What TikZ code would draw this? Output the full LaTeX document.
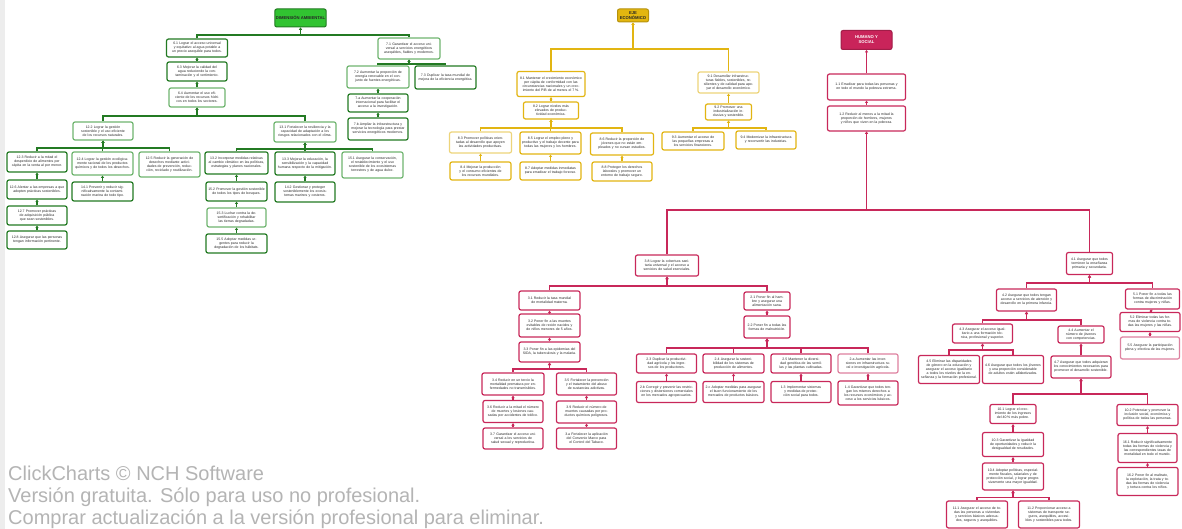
\documentclass[tikz,border=0pt]{standalone}
\usepackage{fontspec}
\setmainfont{Liberation Sans}
\usetikzlibrary{arrows.meta}
\definecolor{gdk}{HTML}{237A23}
\definecolor{glt}{HTML}{6FB56F}
\definecolor{gfill}{HTML}{31C331}
\definecolor{ydk}{HTML}{E2B512}
\definecolor{ylt}{HTML}{EDD47A}
\definecolor{yfill}{HTML}{E3B60F}
\definecolor{rdk}{HTML}{C8285A}
\definecolor{rlt}{HTML}{DE819F}
\definecolor{rfill}{HTML}{C9245A}
\definecolor{wmc}{HTML}{B4B4B4}
\definecolor{txt}{HTML}{2A2A2A}
\tikzset{
  bb/.style={rounded corners=2pt, line width=1.2pt, fill=white, align=center,
    text=txt, inner sep=1.3pt, font=\fontsize{3.5}{4}\selectfont},
  gbox/.style={bb, draw=gdk},
  gboxl/.style={bb, draw=glt},
  ybox/.style={bb, draw=ydk},
  yboxl/.style={bb, draw=ylt},
  rbox/.style={bb, draw=rdk},
  rboxl/.style={bb, draw=rlt},
  rootbox/.style={rounded corners=2pt, line width=1pt, align=center, inner sep=1pt,
    font=\fontsize{4.2}{5}\selectfont\bfseries},
  gconn/.style={draw=gdk, line width=1.1pt, -{Triangle[length=2.4pt,width=3pt]}},
  yconn/.style={draw=ydk, line width=1.1pt, -{Triangle[length=2.4pt,width=3pt]}},
  rconn/.style={draw=rdk, line width=1.1pt, -{Triangle[length=2.4pt,width=3pt]}},
  wmark/.style={anchor=base west, text=wmc, inner sep=0pt, font=\fontsize{20}{20}\selectfont}
}
\newcommand\bx[7]{\pgfmathsetlengthmacro\tw{#5pt-4pt}\node[#1,minimum width=#5pt,minimum height=#6pt,text width=\tw] (#2) at (#3,#4) {#7};}
\newcommand\tobus[4]{\coordinate (bz) at (0,#4); \draw[#1] (#2.north) -- (#2.north |- bz) -| (#3.south);}
\newcommand\tochain[3]{\draw[#1] (#2.north) -- (#3.south);}
\begin{document}
\begin{tikzpicture}[x=1pt,y=-1pt]
\useasboundingbox (0,0) rectangle (1182,529);
\fill[white] (0,0) rectangle (1182,529);
\fill[black!7] (0,0) rectangle (5,529);

% ================= GREEN =================
\node[rootbox, draw=gdk, fill=gfill, text=black!85, minimum width=51pt, minimum height=18pt] (groot) at (300.5,18) {DIMENSIÓN AMBIENTAL};
\bx{gbox}{g1}{197}{48}{61}{18}{6.1 Lograr el acceso universal y equitativo al agua potable a un precio asequible para todos.}
\bx{gbox}{g1a}{197}{71.5}{60}{19}{6.3 Mejorar la calidad del agua reduciendo la contaminación y el vertimiento.}
\bx{gboxl}{g1b}{197}{97.5}{56}{19}{6.4 Aumentar el uso eficiente de los recursos hídricos en todos los sectores.}
\bx{gboxl}{g3}{103}{131}{60}{18}{12.2 Lograr la gestión sostenible y el uso eficiente de los recursos naturales.}
\bx{gboxl}{g4}{305}{132}{62}{20}{13.1 Fortalecer la resiliencia y la capacidad de adaptación a los riesgos relacionados con el clima.}
\bx{gbox}{g3a}{37}{162}{60}{20}{12.3 Reducir a la mitad el desperdicio de alimentos per cápita en la venta al por menor.}
\bx{gboxl}{g3b}{102.5}{163.5}{61}{23}{12.4 Lograr la gestión ecológicamente racional de los productos químicos y de todos los desechos.}
\bx{gboxl}{g3c}{169.5}{164.5}{61}{25}{12.5 Reducir la generación de desechos mediante actividades de prevención, reducción, reciclado y reutilización.}
\bx{gbox}{g3a1}{37}{189.5}{60}{19}{12.6 Alentar a las empresas a que adopten prácticas sostenibles.}
\bx{gbox}{g3a2}{37}{215.5}{60}{19}{12.7 Promover prácticas de adquisición pública que sean sostenibles.}
\bx{gbox}{g3a3}{37}{240}{60}{18}{12.8 Asegurar que las personas tengan información pertinente.}
\bx{gbox}{g3b1}{102.5}{191.5}{61}{19}{14.1 Prevenir y reducir significativamente la contaminación marina de todo tipo.}
\bx{gbox}{g4a}{236.5}{163}{63}{22}{13.2 Incorporar medidas relativas al cambio climático en las políticas, estrategias y planes nacionales.}
\bx{gbox}{g4b}{305}{163.5}{60}{23}{13.3 Mejorar la educación, la sensibilización y la capacidad humana respecto de la mitigación.}
\bx{gboxl}{g4c}{372.5}{165}{61}{26}{15.1 Asegurar la conservación, el restablecimiento y el uso sostenible de los ecosistemas terrestres y de agua dulce.}
\bx{gbox}{g4a1}{236.5}{191.5}{61}{19}{15.2 Promover la gestión sostenible de todos los tipos de bosques.}
\bx{gboxl}{g4a2}{236.5}{217.5}{59}{19}{15.3 Luchar contra la desertificación y rehabilitar las tierras degradadas.}
\bx{gbox}{g4a3}{236.5}{243.5}{61}{19}{15.5 Adoptar medidas urgentes para reducir la degradación de los hábitats.}
\bx{gbox}{g4b1}{305}{192}{60}{20}{14.2 Gestionar y proteger sosteniblemente los ecosistemas marinos y costeros.}
\bx{gboxl}{g2}{409}{48.5}{62}{21}{7.1 Garantizar el acceso universal a servicios energéticos asequibles, fiables y modernos.}
\bx{gboxl}{g2a}{378}{77}{62}{22}{7.2 Aumentar la proporción de energía renovable en el conjunto de fuentes energéticas.}
\bx{gbox}{g2b}{445.5}{77.5}{61}{23}{7.3 Duplicar la tasa mundial de mejora de la eficiencia energética.}
\bx{gbox}{g2a1}{378}{103}{60}{18}{7.a Aumentar la cooperación internacional para facilitar el acceso a la investigación.}
\bx{gbox}{g2a2}{378}{129}{60}{22}{7.b Ampliar la infraestructura y mejorar la tecnología para prestar servicios energéticos modernos.}

\tobus{gconn}{g1}{groot}{35}
\tobus{gconn}{g2}{groot}{35}
\tochain{gconn}{g1a}{g1}
\tochain{gconn}{g1b}{g1a}
\tobus{gconn}{g3}{g1b}{116}
\tobus{gconn}{g4}{g1b}{116}
\tobus{gconn}{g3a}{g3}{148}
\tobus{gconn}{g3b}{g3}{148}
\tobus{gconn}{g3c}{g3}{148}
\tobus{gconn}{g4a}{g4}{149}
\tobus{gconn}{g4b}{g4}{149}
\tobus{gconn}{g4c}{g4}{149}
\tochain{gconn}{g3a1}{g3a}
\tochain{gconn}{g3a2}{g3a1}
\tochain{gconn}{g3a3}{g3a2}
\tochain{gconn}{g3b1}{g3b}
\tochain{gconn}{g4a1}{g4a}
\tochain{gconn}{g4a2}{g4a1}
\tochain{gconn}{g4a3}{g4a2}
\tochain{gconn}{g4b1}{g4b}
\tobus{gconn}{g2a}{g2}{64}
\tobus{gconn}{g2b}{g2}{64}
\tochain{gconn}{g2a1}{g2a}
\tochain{gconn}{g2a2}{g2a1}

% ================= YELLOW =================
\node[rootbox, draw=yfill!80!black, fill=yfill, text=black!85, minimum width=31pt, minimum height=13pt] (yroot) at (633,15.5) {EJE\\ECONÓMICO};
\bx{ybox}{y1}{551}{84}{68}{25}{8.1 Mantener el crecimiento económico per cápita de conformidad con las circunstancias nacionales y un crecimiento del PIB de al menos el 7\,\%.}
\bx{yboxl}{y2}{728.5}{82.5}{61}{21}{9.1 Desarrollar infraestructuras fiables, sostenibles, resilientes y de calidad para apoyar el desarrollo económico.}
\bx{ybox}{y1a}{551}{110.5}{55}{17}{8.2 Lograr niveles más elevados de productividad económica.}
\bx{ybox}{y2a}{728.5}{112}{46}{16}{9.2 Promover una industrialización inclusiva y sostenible.}
\bx{yboxl}{y1a1}{480.5}{142.5}{62}{21}{8.3 Promover políticas orientadas al desarrollo que apoyen las actividades productivas.}
\bx{ybox}{y1a2}{550.5}{143}{61}{22}{8.5 Lograr el empleo pleno y productivo y el trabajo decente para todas las mujeres y los hombres.}
\bx{ybox}{y1a3}{622}{144}{63}{22}{8.6 Reducir la proporción de jóvenes que no están empleados y no cursan estudios.}
\bx{ybox}{y1a1b}{480.5}{171}{61}{18}{8.4 Mejorar la producción y el consumo eficientes de los recursos mundiales.}
\bx{ybox}{y1a2b}{550.5}{171}{61}{18}{8.7 Adoptar medidas inmediatas para erradicar el trabajo forzoso.}
\bx{ybox}{y1a3b}{622}{171.5}{60}{19}{8.8 Proteger los derechos laborales y promover un entorno de trabajo seguro.}
\bx{ybox}{y2a1}{693}{141}{62}{18}{9.3 Aumentar el acceso de las pequeñas empresas a los servicios financieros.}
\bx{ybox}{y2a2}{766}{140}{60}{18}{9.4 Modernizar la infraestructura y reconvertir las industrias.}

\tobus{yconn}{y1}{yroot}{49}
\tobus{yconn}{y2}{yroot}{49}
\tochain{yconn}{y1a}{y1}
\tochain{yconn}{y2a}{y2}
\tobus{yconn}{y1a1}{y1a}{128}
\tobus{yconn}{y1a2}{y1a}{128}
\tobus{yconn}{y1a3}{y1a}{128}
\tobus{yconn}{y2a1}{y2a}{128}
\tobus{yconn}{y2a2}{y2a}{128}
\tochain{yconn}{y1a1b}{y1a1}
\tochain{yconn}{y1a2b}{y1a2}
\tochain{yconn}{y1a3b}{y1a3}

% ================= RED =================
\node[rootbox, draw=rfill!80!black, fill=rfill, text=white, minimum width=51pt, minimum height=19pt] (rroot) at (866.5,40) {HUMANO Y\\SOCIAL};
\bx{rbox}{r1}{866.5}{87}{78}{26}{1.1 Erradicar para todas las personas y en todo el mundo la pobreza extrema.}
\bx{rbox}{r2}{866.5}{118.5}{78}{25}{1.2 Reducir al menos a la mitad la proporción de hombres, mujeres y niños que viven en la pobreza.}
\bx{rbox}{rl}{667}{265.5}{63}{21}{3.8 Lograr la cobertura sanitaria universal y el acceso a servicios de salud esenciales.}
\bx{rbox}{rr}{1089.5}{263.5}{46}{22}{4.1 Asegurar que todos terminen la enseñanza primaria y secundaria.}
\bx{rbox}{rla}{549.5}{300.5}{61}{19}{3.1 Reducir la tasa mundial de mortalidad materna.}
\bx{rbox}{rla1}{549.5}{325.5}{61}{23}{3.2 Poner fin a las muertes evitables de recién nacidos y de niños menores de 5 años.}
\bx{rbox}{rla2}{549.5}{352}{61}{20}{3.3 Poner fin a las epidemias del SIDA, la tuberculosis y la malaria.}
\bx{rbox}{rla2a}{513}{384}{62}{22}{3.4 Reducir en un tercio la mortalidad prematura por enfermedades no transmisibles.}
\bx{rbox}{rla2b}{586.5}{384}{60}{22}{3.5 Fortalecer la prevención y el tratamiento del abuso de sustancias adictivas.}
\bx{rbox}{rla2a1}{513}{411.5}{60}{22}{3.6 Reducir a la mitad el número de muertes y lesiones causadas por accidentes de tráfico.}
\bx{rbox}{rla2a2}{513}{438.5}{60}{21}{3.7 Garantizar el acceso universal a los servicios de salud sexual y reproductiva.}
\bx{rbox}{rla2b1}{586.5}{412}{60}{22}{3.9 Reducir el número de muertes causadas por productos químicos peligrosos.}
\bx{rbox}{rla2b2}{586.5}{438.5}{60}{21}{3.a Fortalecer la aplicación del Convenio Marco para el Control del Tabaco.}
\bx{rbox}{rlb}{767}{301}{46}{18}{2.1 Poner fin al hambre y asegurar una alimentación sana.}
\bx{rbox}{rlb1}{767}{327}{46}{22}{2.2 Poner fin a todas las formas de malnutrición.}
\bx{rbox}{rlb1a}{666.5}{363.5}{60}{19}{2.3 Duplicar la productividad agrícola y los ingresos de los productores.}
\bx{rbox}{rlb1b}{733.5}{363.5}{61}{19}{2.4 Asegurar la sostenibilidad de los sistemas de producción de alimentos.}
\bx{rbox}{rlb1c}{801}{363.5}{60}{19}{2.5 Mantener la diversidad genética de las semillas y las plantas cultivadas.}
\bx{rboxl}{rlb1d}{868}{363.5}{60}{19}{2.a Aumentar las inversiones en infraestructura rural e investigación agrícola.}
\bx{rbox}{rlb1a1}{666.5}{392}{60}{21}{2.b Corregir y prevenir las restricciones y distorsiones comerciales en los mercados agropecuarios.}
\bx{rbox}{rlb1b1}{733.5}{392}{61}{21}{2.c Adoptar medidas para asegurar el buen funcionamiento de los mercados de productos básicos.}
\bx{rbox}{rlb1c1}{801}{392}{60}{21}{1.3 Implementar sistemas y medidas de protección social para todos.}
\bx{rbox}{rlb1d1}{868}{393}{60}{24}{1.4 Garantizar que todos tengan los mismos derechos a los recursos económicos y acceso a los servicios básicos.}
\bx{rbox}{rra}{1026.5}{300}{60}{22}{4.2 Asegurar que todos tengan acceso a servicios de atención y desarrollo en la primera infancia.}
\bx{rbox}{rrb}{1152.5}{299}{54}{20}{5.1 Poner fin a todas las formas de discriminación contra mujeres y niñas.}
\bx{rbox}{rrb1}{1150}{322}{60}{19}{5.2 Eliminar todas las formas de violencia contra todas las mujeres y las niñas.}
\bx{rboxl}{rrb2}{1150}{348}{59}{22}{5.5 Asegurar la participación plena y efectiva de las mujeres.}
\bx{rbox}{rra1}{982.5}{333.5}{60}{19}{4.3 Asegurar el acceso igualitario a una formación técnica, profesional y superior.}
\bx{rbox}{rra2}{1081}{334.5}{46}{17}{4.4 Aumentar el número de jóvenes con competencias.}
\bx{rbox}{rra1a}{949}{369.5}{61}{28}{4.5 Eliminar las disparidades de género en la educación y asegurar el acceso igualitario a todos los niveles de la enseñanza y la formación profesional.}
\bx{rbox}{rra1b}{1013}{369.5}{61}{28}{4.6 Asegurar que todos los jóvenes y una proporción considerable de adultos estén alfabetizados.}
\bx{rbox}{rra2a}{1081}{367}{60}{22}{4.7 Asegurar que todos adquieran los conocimientos necesarios para promover el desarrollo sostenible.}
\bx{rbox}{rra2a1}{1013}{414}{46}{19}{10.1 Lograr el crecimiento de los ingresos del 40\,\% más pobre.}
\bx{rbox}{rra2a2}{1147.5}{415}{61}{21}{10.2 Potenciar y promover la inclusión social, económica y política de todas las personas.}
\bx{rbox}{rra2a1a}{1013}{444.5}{61}{24}{10.3 Garantizar la igualdad de oportunidades y reducir la desigualdad de resultados.}
\bx{rbox}{rra2a1b}{1013}{476.5}{61}{27}{10.4 Adoptar políticas, especialmente fiscales, salariales y de protección social, y lograr progresivamente una mayor igualdad.}
\bx{rbox}{rra2a1b1}{977}{514.5}{61}{27}{11.1 Asegurar el acceso de todas las personas a viviendas y servicios básicos adecuados, seguros y asequibles.}
\bx{rbox}{rra2a1b2}{1049}{514.5}{61}{27}{11.2 Proporcionar acceso a sistemas de transporte seguros, asequibles, accesibles y sostenibles para todos.}
\bx{rbox}{rra2a2a}{1147.5}{448}{59}{29}{16.1 Reducir significativamente todas las formas de violencia y las correspondientes tasas de mortalidad en todo el mundo.}
\bx{rbox}{rra2a2b}{1147.5}{481.5}{61}{28}{16.2 Poner fin al maltrato, la explotación, la trata y todas las formas de violencia y tortura contra los niños.}

\tochain{rconn}{r1}{rroot}
\tochain{rconn}{r2}{r1}
\tobus{rconn}{rl}{r2}{210}
\tobus{rconn}{rr}{r2}{210}
\tobus{rconn}{rla}{rl}{286}
\tobus{rconn}{rlb}{rl}{286}
\tochain{rconn}{rla1}{rla}
\tochain{rconn}{rla2}{rla1}
\tobus{rconn}{rla2a}{rla2}{369}
\tobus{rconn}{rla2b}{rla2}{369}
\tochain{rconn}{rla2a1}{rla2a}
\tochain{rconn}{rla2a2}{rla2a1}
\tochain{rconn}{rla2b1}{rla2b}
\tochain{rconn}{rla2b2}{rla2b1}
\tochain{rconn}{rlb1}{rlb}
\tobus{rconn}{rlb1a}{rlb1}{348}
\tobus{rconn}{rlb1b}{rlb1}{348}
\tobus{rconn}{rlb1c}{rlb1}{348}
\tobus{rconn}{rlb1d}{rlb1}{348}
\tochain{rconn}{rlb1a1}{rlb1a}
\tochain{rconn}{rlb1b1}{rlb1b}
\tochain{rconn}{rlb1c1}{rlb1c}
\tochain{rconn}{rlb1d1}{rlb1d}
\tobus{rconn}{rra}{rr}{283}
\tobus{rconn}{rrb}{rr}{283}
\tochain{rconn}{rrb1}{rrb}
\tochain{rconn}{rrb2}{rrb1}
\tobus{rconn}{rra1}{rra}{320}
\tobus{rconn}{rra2}{rra}{320}
\tobus{rconn}{rra1a}{rra1}{350}
\tobus{rconn}{rra1b}{rra1}{350}
\tochain{rconn}{rra2a}{rra2}
\tobus{rconn}{rra2a1}{rra2a}{394}
\tobus{rconn}{rra2a2}{rra2a}{394}
\tochain{rconn}{rra2a1a}{rra2a1}
\tochain{rconn}{rra2a1b}{rra2a1a}
\tobus{rconn}{rra2a1b1}{rra2a1b}{497.5}
\tobus{rconn}{rra2a1b2}{rra2a1b}{497.5}
\tochain{rconn}{rra2a2a}{rra2a2}
\tochain{rconn}{rra2a2b}{rra2a2a}

% ================= WATERMARK =================
\node[wmark] (wm1) at (8,480.5) {ClickCharts © NCH Software};
\node[wmark] (wm2) at (8,502.5) {Versión gratuita. Sólo para uso no profesional.};
\node[wmark] (wm3) at (8,524.5) {Comprar actualización a la versión profesional para eliminar.};
\end{tikzpicture}
\end{document}
